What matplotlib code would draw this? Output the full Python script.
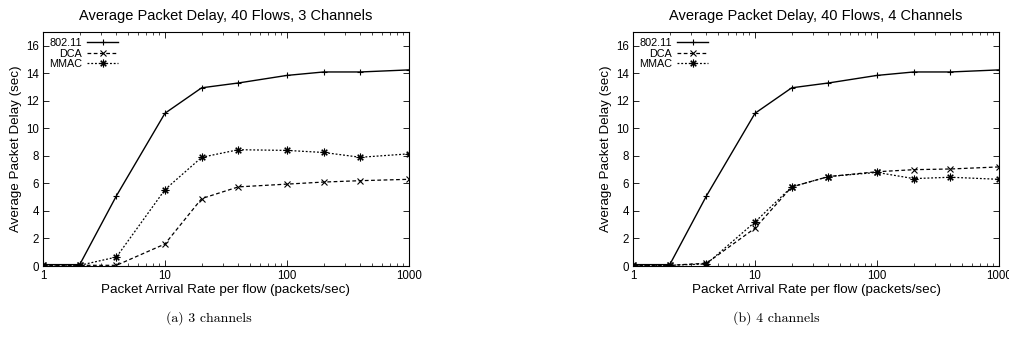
import matplotlib.pyplot as plt

# Données
debits = [1, 2, 4, 10, 20, 40, 100, 200, 400, 1000]

delai_80211 = [0.1, 0.1, 5.1, 11.1, 12.95, 13.3, 13.85, 14.1, 14.1, 14.25]

delai_dca_3 = [0.05, 0.05, 0.05, 1.6, 4.9, 5.75, 5.95, 6.1, 6.2, 6.3]
delai_mmac_3 = [0.1, 0.05, 0.65, 5.55, 7.9, 8.45, 8.4, 8.25, 7.9, 8.15]

delai_dca_4 = [0.05, 0.05, 0.2, 2.75, 5.75, 6.5, 6.85, 7.0, 7.05, 7.2]
delai_mmac_4 = [0.05, 0.05, 0.15, 3.2, 5.75, 6.5, 6.8, 6.35, 6.45, 6.3]

titres = ["Average Packet Delay, 40 Flows, 3 Channels",
          "Average Packet Delay, 40 Flows, 4 Channels"]
legendes = ["(a) 3 channels", "(b) 4 channels"]

plt.rcParams['font.family'] = ['Liberation Sans', 'DejaVu Sans']

fig = plt.figure(figsize=(10.09, 3.55), dpi=100)
ax1 = fig.add_axes([0.0426, 0.2507, 0.3627, 0.659])
ax2 = fig.add_axes([0.6274, 0.2507, 0.3627, 0.659])

asterisque = (8, 2, 0)

for ax, titre, dca, mmac in [(ax1, titres[0], delai_dca_3, delai_mmac_3),
                             (ax2, titres[1], delai_dca_4, delai_mmac_4)]:
    ax.plot(debits, delai_80211, color='black', lw=1, marker='+', ms=5,
            mew=0.8, label='802.11')
    ax.plot(debits, dca, color='black', lw=0.9, ls=(0, (3, 2)), marker='x',
            ms=4, mew=0.8, label='DCA')
    ax.plot(debits, mmac, color='black', lw=0.9, ls=(0, (1.5, 1.5)),
            marker=asterisque, ms=5.5, mew=0.8, label='MMAC')
    ax.set_xscale('log')
    ax.set_xlim(1, 1000)
    ax.set_ylim(0, 17)
    ax.set_yticks(range(0, 17, 2))
    ax.set_xticks([1, 10, 100, 1000])
    ax.set_xticklabels(['1', '10', '100', '1000'])
    ax.tick_params(which='both', direction='in', top=True, right=True,
                   labelsize=8.3, pad=3)
    ax.tick_params(which='major', length=4.5, width=0.6)
    ax.tick_params(which='minor', length=2.2, width=0.5)
    ax.set_title(titre, fontsize=10.5, pad=9)
    ax.set_xlabel('Packet Arrival Rate per flow (packets/sec)', fontsize=9.6,
                  labelpad=1)
    ax.set_ylabel('Average Packet Delay (sec)', fontsize=9.6, labelpad=3)
    for s in ax.spines.values():
        s.set_linewidth(0.8)
    leg = ax.legend(loc='upper left', markerfirst=False, frameon=False,
                    fontsize=7.8, handlelength=2.8, labelspacing=0.05,
                    borderaxespad=0.25, handletextpad=0.5, borderpad=0.3)

fig.text(0.207, 0.095, legendes[0], fontsize=10, family='cmr10', ha='center')
fig.text(0.769, 0.095, legendes[1], fontsize=10, family='cmr10', ha='center')

plt.savefig("out.png", dpi=100)
